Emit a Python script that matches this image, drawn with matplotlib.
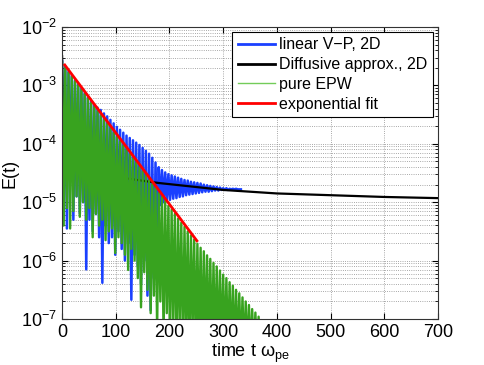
import numpy as np
import matplotlib
matplotlib.use('Agg')
import matplotlib.pyplot as plt

plt.rcParams['font.family'] = ['Liberation Sans', 'DejaVu Sans']
plt.rcParams['mathtext.fontset'] = 'custom'
plt.rcParams['mathtext.rm'] = 'Liberation Sans'
plt.rcParams['mathtext.it'] = 'Liberation Sans:italic'

# oscillating signals: one peak and one dip per 6 time units (log10 of E)
step = 6

# linear V-P, 2D
vp_peaks = [-2.58, -2.68, -2.76, -2.83, -2.91, -2.98, -3.05, -3.13, -3.20, -3.27,
            -3.33, -3.38, -3.42, -3.48, -3.53, -3.59, -3.65, -3.71, -3.76, -3.81,
            -3.86, -3.90, -3.94, -3.98, -4.02, -4.07, -4.12, -4.17, -4.24, -4.32,
            -4.40, -4.45, -4.49, -4.52, -4.54, -4.56, -4.58, -4.60, -4.62, -4.63,
            -4.65, -4.66, -4.67, -4.68, -4.70, -4.71, -4.72, -4.73, -4.74, -4.75,
            -4.76, -4.76, -4.77, -4.77, -4.77, -4.78]
vp_dips = [-5.00, -5.45, -4.60, -5.30, -4.90, -5.20, -5.00, -6.15, -5.30, -5.50,
           -5.20, -5.60, -6.38, -5.40, -5.70, -5.60, -5.90, -5.50, -5.80, -6.00,
           -5.70, -6.67, -5.90, -6.10, -6.40, -6.00, -6.60, -6.85, -6.30, -5.60,
           -5.05, -5.00, -4.98, -4.96, -4.94, -4.93, -4.91, -4.90, -4.88, -4.87,
           -4.86, -4.85, -4.84, -4.83, -4.82, -4.82, -4.81, -4.80, -4.80, -4.79,
           -4.79, -4.79, -4.78, -4.78, -4.78, -4.78]

# pure EPW
epw_peaks = [-2.60, -2.70, -2.78, -2.85, -2.93, -3.00, -3.07, -3.15, -3.22, -3.30,
             -3.37, -3.44, -3.52, -3.59, -3.66, -3.74, -3.81, -3.88, -3.96, -4.03,
             -4.10, -4.18, -4.25, -4.32, -4.40, -4.47, -4.54, -4.62, -4.69, -4.76,
             -4.84, -4.91, -4.98, -5.06, -5.13, -5.20, -5.28, -5.35, -5.42, -5.50,
             -5.57, -5.64, -5.71, -5.78, -5.84, -5.91, -5.97, -6.04, -6.10, -6.17,
             -6.24, -6.30, -6.37, -6.43, -6.50, -6.56, -6.63, -6.70, -6.76, -6.83,
             -6.89, -6.96, -7.02]
epw_dips = [-5.40, -5.10, -5.45, -5.15, -4.90, -5.25, -5.00, -5.30, -5.10, -5.60,
            -5.20, -5.40, -5.30, -5.65, -5.50, -5.45, -5.87, -5.60, -5.70, -5.90,
            -6.16, -5.80, -6.00, -6.30, -6.80, -6.20, -6.50, -6.90, -6.60, -7.20,
            -6.70, -7.30, -6.90, -7.50, -7.00, -7.60, -7.10, -7.50, -7.30, -7.60,
            -7.20, -7.60, -7.40, -7.60, -7.50, -7.60, -7.60, -7.60, -7.60, -7.60,
            -7.60, -7.60, -7.60, -7.60, -7.60, -7.60, -7.60, -7.60, -7.60, -7.60,
            -7.60, -7.60, -7.60]

# diffusive approximation
diff_t = [0, 1, 3, 6, 10, 17, 30, 48, 80, 117, 179, 250, 300, 400, 500, 600, 700]
diff_log = [-2.50, -3.30, -3.85, -4.05, -4.17, -4.28, -4.37, -4.45, -4.53, -4.59,
            -4.67, -4.74, -4.79, -4.85, -4.88, -4.91, -4.93]

# exponential fit
fit_t = [5, 251]
fit_log = [-2.65, -5.66]


def zigzag(peaks, dips):
    n = len(peaks)
    t0 = np.arange(n) * step
    t = np.empty(2 * n)
    y = np.empty(2 * n)
    t[0::2] = t0
    t[1::2] = t0 + step / 2
    y[0::2] = peaks
    y[1::2] = dips
    return t, 10 ** y


fig = plt.figure(figsize=(4.85, 3.65), dpi=100)
ax = fig.add_axes([0.128, 0.126, 0.775, 0.8])

t, y = zigzag(vp_peaks, vp_dips)
ax.semilogy(t, y, color=(0.1, 0.25, 1.0), lw=1.8, label='linear V\u2212P, 2D')
ax.semilogy(diff_t, 10 ** np.array(diff_log), color='k', lw=1.6, label='Diffusive approx., 2D')
t, y = zigzag(epw_peaks, epw_dips)
ax.semilogy(t, y, color=(0.22, 0.64, 0.12), lw=1.7, label='pure EPW')
ax.semilogy(fit_t, 10 ** np.array(fit_log), color='r', lw=2.0, label='exponential fit')

ax.set_xlim(0, 700)
ax.set_ylim(1e-7, 1e-2)
ax.set_xticks(range(0, 701, 100))
ax.grid(True, which='major', ls=':', color='0.55', lw=0.6)
ax.grid(True, which='minor', axis='y', ls=':', color='0.55', lw=0.6)
ax.tick_params(which='both', direction='in', top=True, right=True, labelsize=13)
ax.tick_params(which='major', length=4)
ax.tick_params(which='minor', length=2)
for s in ax.spines.values():
    s.set_linewidth(0.8)
    s.set_color('0.2')

ax.set_xlabel(r'time t $\mathregular{\omega_{pe}}$', fontsize=13, labelpad=1)
ax.set_ylabel('E(t)', fontsize=13, labelpad=2)

leg = ax.legend(loc='upper right', fontsize=11.5, fancybox=False, framealpha=1,
                edgecolor='k', borderaxespad=0.3, handlelength=2.3,
                handletextpad=0.3, labelspacing=0.3, borderpad=0.35)
leg.get_frame().set_linewidth(0.8)
for h in leg.get_lines():
    h.set_linewidth(2.0)
leg.get_lines()[2].set_linewidth(1.0)
leg.get_lines()[2].set_color((0.45, 0.8, 0.35))

fig.savefig('out.png', dpi=100)
